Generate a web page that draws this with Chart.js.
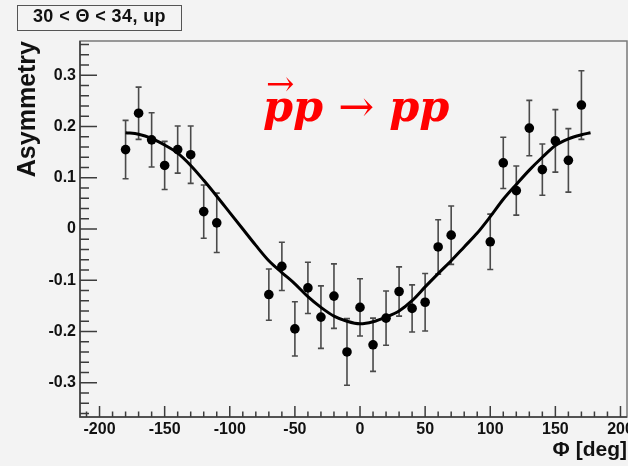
<!DOCTYPE html>
<html>
<head>
<meta charset="utf-8">
<script src="https://cdn.jsdelivr.net/npm/chart.js@4.4.1/dist/chart.umd.min.js"></script>
<style>
  body { margin: 0; background: #f3f3f3; }
  #wrap { position: relative; width: 628px; height: 466px; }
  canvas { display: block; }
  #cut {
    position: absolute; left: 17px; top: 5px; width: 163px; height: 24px;
    border: 1px solid #555; text-align: center; line-height: 24px; letter-spacing: 0.4px;
    font: bold 18px "Liberation Sans", Arial, sans-serif; color: #111;
  }
  #reaction {
    position: absolute; left: 263px; top: 81px; line-height: 43px; white-space: nowrap;
    font: bold italic 43px "DejaVu Serif", serif; color: #ff0000;
  }
  #reaction .vec { position: relative; }
  #reaction .vec .over {
    position: absolute; left: 3px; top: -18px; line-height: 34px;
    font: normal 34px "DejaVu Serif", serif;
  }
  #reaction .to { font-style: normal; font-weight: normal; }
</style>
</head>
<body>
<div id="wrap">
  <canvas id="asymChart" width="628" height="466"></canvas>
  <div id="cut">30 &lt; Θ &lt; 34, up</div>
  <div id="reaction"><span class="vec"><span class="over">→</span>p</span>p <span class="to">→</span> pp</div>
</div>
<script>
// measured asymmetry per phi bin (deg), with statistical errors
const phiBins = [-180, -170, -160, -150, -140, -130, -120, -110,
                 -70, -60, -50, -40, -30, -20, -10, 0, 10, 20, 30, 40, 50, 60, 70,
                 100, 110, 120, 130, 140, 150, 160, 170];
const asym = [0.155, 0.226, 0.174, 0.124, 0.155, 0.145, 0.034, 0.012,
              -0.128, -0.073, -0.195, -0.115, -0.172, -0.131, -0.240, -0.153, -0.226, -0.174, -0.122, -0.155, -0.143, -0.035, -0.012,
              -0.025, 0.129, 0.075, 0.197, 0.116, 0.172, 0.134, 0.242];
const asymErr = [0.057, 0.051, 0.053, 0.047, 0.046, 0.056, 0.052, 0.058,
                 0.050, 0.047, 0.053, 0.050, 0.061, 0.063, 0.065, 0.056, 0.052, 0.053, 0.048, 0.046, 0.056, 0.053, 0.057,
                 0.054, 0.050, 0.048, 0.054, 0.050, 0.061, 0.062, 0.067];

// fitted curve, sampled every 10 deg
const fitPhi = [-180, -170, -160, -150, -140, -130, -120, -110, -100, -90, -80, -70, -60, -50, -40, -30, -20, -10,
                0, 10, 20, 30, 40, 50, 60, 70, 80, 90, 100, 110, 120, 130, 140, 150, 160, 170, 177];
const fitAsym = [0.188, 0.185, 0.177, 0.164, 0.148, 0.124, 0.095, 0.064, 0.032, 0.000, -0.032, -0.062, -0.085, -0.107, -0.132, -0.153, -0.170, -0.180,
                 -0.185, -0.181, -0.172, -0.160, -0.140, -0.113, -0.087, -0.062, -0.035, -0.008, 0.024, 0.058, 0.087, 0.115, 0.140, 0.163, 0.176, 0.184, 0.188];

const xRange = [-215, 205];
const yRange = [-0.367, 0.367];

const tickFont = { family: '"Liberation Sans", Arial, sans-serif', size: 16, weight: 'bold' };

// error bars under the markers
const errorBars = {
  id: 'errorBars',
  beforeDatasetsDraw(chart) {
    const { ctx, scales: { x, y } } = chart;
    ctx.save();
    ctx.strokeStyle = '#4a4a4a';
    ctx.lineWidth = 1.6;
    phiBins.forEach((phi, i) => {
      const px = x.getPixelForValue(phi);
      const top = y.getPixelForValue(asym[i] + asymErr[i]);
      const bot = y.getPixelForValue(asym[i] - asymErr[i]);
      ctx.beginPath();
      ctx.moveTo(px, top); ctx.lineTo(px, bot);
      ctx.moveTo(px - 3, top); ctx.lineTo(px + 3, top);
      ctx.moveTo(px - 3, bot); ctx.lineTo(px + 3, bot);
      ctx.stroke();
    });
    ctx.restore();
  }
};

// frame with inward ticks
const frame = {
  id: 'frame',
  afterDatasetsDraw(chart) {
    const { ctx, chartArea: a, scales: { x, y } } = chart;
    ctx.save();
    ctx.strokeStyle = '#7a7a7a';
    ctx.lineWidth = 1.5;
    ctx.strokeRect(a.left, a.top, a.right - a.left, a.bottom - a.top);

    ctx.strokeStyle = '#3c3c3c';
    ctx.lineWidth = 1.5;
    ctx.beginPath();
    ctx.moveTo(a.left, a.top); ctx.lineTo(a.left, a.bottom); ctx.lineTo(a.right, a.bottom);
    for (let i = -18; i <= 18; i++) {
      const py = y.getPixelForValue(i * 0.02);
      ctx.moveTo(a.left, py);
      ctx.lineTo(a.left + (i % 5 === 0 ? 17 : 9), py);
    }
    for (let i = -21; i <= 20; i++) {
      const px = x.getPixelForValue(i * 10);
      ctx.moveTo(px, a.bottom);
      ctx.lineTo(px, a.bottom - (i % 5 === 0 ? 11 : 5.5));
    }
    ctx.stroke();
    ctx.restore();
  }
};

new Chart(document.getElementById('asymChart'), {
  type: 'scatter',
  data: {
    datasets: [
      {
        label: 'data',
        data: phiBins.map((phi, i) => ({ x: phi, y: asym[i] })),
        pointRadius: 4.8,
        pointBackgroundColor: '#000',
        pointBorderWidth: 0
      },
      {
        label: 'fit',
        type: 'line',
        data: fitPhi.map((phi, i) => ({ x: phi, y: fitAsym[i] })),
        borderColor: '#000',
        borderWidth: 3,
        pointRadius: 0,
        tension: 0.4,
        cubicInterpolationMode: 'monotone'
      }
    ]
  },
  options: {
    responsive: false,
    animation: false,
    devicePixelRatio: 1,
    layout: { autoPadding: false, padding: { top: 41, right: 1, left: 0, bottom: 0 } },
    plugins: { legend: { display: false }, tooltip: { enabled: false } },
    scales: {
      x: {
        type: 'linear',
        min: xRange[0], max: xRange[1],
        grid: { display: false, drawTicks: false },
        border: { display: false },
        ticks: { stepSize: 50, includeBounds: false, maxRotation: 0, autoSkip: false, padding: 3, color: '#111', font: tickFont },
        title: {
          display: true, text: 'Φ [deg]', align: 'end', color: '#111',
          font: { family: tickFont.family, size: 21, weight: 'bold' },
          padding: { top: 0, bottom: 3 }
        },
        // the "200" label may run off the right edge
        afterFit(s) { s.height = 49; s.paddingLeft = 0; s.paddingRight = 0; }
      },
      y: {
        min: yRange[0], max: yRange[1],
        grid: { display: false, drawTicks: false },
        border: { display: false },
        ticks: { stepSize: 0.1, includeBounds: false, padding: 4, color: '#111', font: tickFont },
        title: {
          display: true, text: 'Asymmetry', align: 'end', color: '#111',
          font: { family: tickFont.family, size: 25, weight: 'bold' },
          padding: { top: 13, bottom: 0 }
        },
        afterFit(s) { s.width = 80; s.paddingTop = 0; s.paddingBottom = 0; }
      }
    }
  },
  plugins: [errorBars, frame]
});
</script>
</body>
</html>
